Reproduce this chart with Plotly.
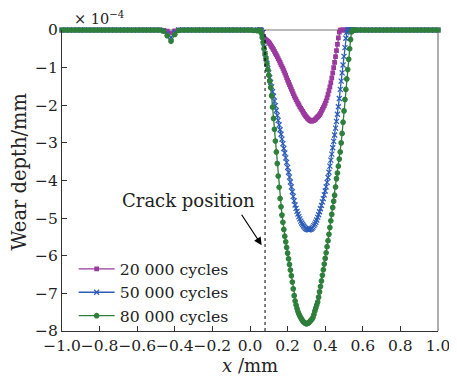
import plotly.graph_objects as go

# ---------------- data ----------------
x_left = [-1.00, -0.98, -0.96, -0.94, -0.92, -0.90, -0.88, -0.86, -0.84, -0.82,
          -0.80, -0.78, -0.76, -0.74, -0.72, -0.70, -0.68, -0.66, -0.64, -0.62,
          -0.60, -0.58, -0.56, -0.54, -0.52, -0.50, -0.48, -0.46, -0.44, -0.42,
          -0.40, -0.38, -0.36, -0.34, -0.32, -0.30, -0.28, -0.26, -0.24, -0.22,
          -0.20, -0.18, -0.16, -0.14, -0.12, -0.10, -0.08, -0.06, -0.04, -0.02,
          0.00, 0.02, 0.04]
y_left_20k = [0, 0, 0, 0, 0, 0, 0, 0, 0, 0,
              0, 0, 0, 0, 0, 0, 0, 0, 0, 0,
              0, 0, 0, 0, 0, 0, 0, -0.01, -0.03, -0.08,
              -0.02, 0, 0, 0, 0, 0, 0, 0, 0, 0,
              0, 0, 0, 0, 0, 0, 0, 0, 0, 0,
              0, 0, 0]
y_left_50k = [0, 0, 0, 0, 0, 0, 0, 0, 0, 0,
              0, 0, 0, 0, 0, 0, 0, 0, 0, 0,
              0, 0, 0, 0, 0, 0, 0, -0.02, -0.09, -0.20,
              -0.06, 0, 0, 0, 0, 0, 0, 0, 0, 0,
              0, 0, 0, 0, 0, 0, 0, 0, 0, 0,
              0, 0, -0.01]
y_left_80k = [0, 0, 0, 0, 0, 0, 0, 0, 0, 0,
              0, 0, 0, 0, 0, 0, 0, 0, 0, 0,
              0, 0, 0, 0, 0, 0, 0, -0.03, -0.15, -0.30,
              -0.12, -0.01, 0, 0, 0, 0, 0, 0, 0, 0,
              0, 0, 0, 0, 0, 0, 0, 0, 0, 0,
              0, -0.01, -0.02]

x_mid = [0.050, 0.055, 0.060, 0.065, 0.070, 0.075, 0.080, 0.085, 0.090, 0.095,
         0.100, 0.105, 0.110, 0.115, 0.120, 0.125, 0.130, 0.135, 0.140, 0.145,
         0.150, 0.155, 0.160, 0.165, 0.170, 0.175, 0.180, 0.185, 0.190, 0.195,
         0.200, 0.205, 0.210, 0.215, 0.220, 0.225, 0.230, 0.235, 0.240, 0.245,
         0.250, 0.255, 0.260, 0.265, 0.270, 0.275, 0.280, 0.285, 0.290, 0.295,
         0.300, 0.305, 0.310, 0.315, 0.320, 0.325, 0.330, 0.335, 0.340, 0.345,
         0.350, 0.355, 0.360, 0.365, 0.370, 0.375, 0.380, 0.385, 0.390, 0.395,
         0.400, 0.405, 0.410, 0.415, 0.420, 0.425, 0.430, 0.435, 0.440, 0.445,
         0.450, 0.455, 0.460, 0.465, 0.470, 0.475, 0.480, 0.485, 0.490, 0.495,
         0.500, 0.505, 0.510, 0.515, 0.520, 0.525, 0.530, 0.535, 0.540, 0.545,
         0.550]
y_mid_20k = [0, 0, -0.01, -0.08, -0.19, -0.22, -0.24, -0.26, -0.28, -0.30,
             -0.33, -0.36, -0.40, -0.44, -0.48, -0.52, -0.57, -0.62, -0.66, -0.71,
             -0.76, -0.81, -0.86, -0.92, -0.97, -1.02, -1.08, -1.14, -1.20, -1.27,
             -1.33, -1.39, -1.45, -1.51, -1.57, -1.63, -1.69, -1.75, -1.80, -1.85,
             -1.90, -1.95, -1.99, -2.04, -2.08, -2.12, -2.16, -2.20, -2.24, -2.28,
             -2.31, -2.34, -2.37, -2.39, -2.41, -2.42, -2.42, -2.41, -2.40, -2.38,
             -2.36, -2.33, -2.31, -2.28, -2.25, -2.21, -2.16, -2.11, -2.06, -2.01,
             -1.95, -1.88, -1.80, -1.71, -1.61, -1.51, -1.40, -1.27, -1.14, -1.00,
             -0.86, -0.71, -0.55, -0.38, -0.21, -0.06, 0, 0, 0, 0,
             0, 0, 0, 0, 0, 0, 0, 0, 0, 0,
             0]
y_mid_50k = [0, 0, -0.01, -0.08, -0.25, -0.47, -0.63, -0.76, -0.89, -1.02,
             -1.14, -1.27, -1.39, -1.51, -1.64, -1.76, -1.89, -2.01, -2.14, -2.27,
             -2.40, -2.52, -2.65, -2.77, -2.90, -3.02, -3.15, -3.27, -3.40, -3.52,
             -3.65, -3.78, -3.91, -4.04, -4.17, -4.30, -4.42, -4.54, -4.65, -4.74,
             -4.82, -4.89, -4.96, -5.02, -5.08, -5.13, -5.17, -5.21, -5.24, -5.27,
             -5.29, -5.30, -5.31, -5.31, -5.30, -5.29, -5.27, -5.24, -5.20, -5.16,
             -5.11, -5.05, -4.98, -4.91, -4.83, -4.75, -4.66, -4.57, -4.48, -4.38,
             -4.28, -4.17, -4.05, -3.92, -3.78, -3.62, -3.46, -3.30, -3.13, -2.96,
             -2.79, -2.61, -2.43, -2.24, -2.04, -1.82, -1.58, -1.36, -1.14, -0.93,
             -0.70, -0.47, -0.22, -0.06, 0, 0, 0, 0, 0, 0,
             0]
y_mid_80k = [0, -0.01, -0.08, -0.20, -0.34, -0.49, -0.63, -0.76, -0.90, -1.05,
             -1.20, -1.36, -1.53, -1.75, -2.05, -2.35, -2.64, -2.95, -3.24, -3.55,
             -3.88, -4.18, -4.48, -4.70, -4.92, -5.11, -5.30, -5.48, -5.63, -5.78,
             -5.93, -6.08, -6.23, -6.38, -6.53, -6.70, -6.88, -7.06, -7.20, -7.31,
             -7.40, -7.48, -7.55, -7.60, -7.65, -7.69, -7.73, -7.76, -7.78, -7.80,
             -7.81, -7.80, -7.79, -7.77, -7.74, -7.71, -7.68, -7.64, -7.56, -7.47,
             -7.39, -7.31, -7.23, -7.10, -6.96, -6.82, -6.67, -6.52, -6.37, -6.22,
             -6.07, -5.92, -5.76, -5.60, -5.43, -5.25, -5.07, -4.90, -4.72, -4.55,
             -4.39, -4.17, -3.95, -3.80, -3.62, -3.43, -3.24, -3.00, -2.75, -2.45,
             -2.15, -1.85, -1.58, -1.30, -1.05, -0.78, -0.50, -0.25, -0.05, 0,
             0]

x_right = [0.56, 0.58, 0.60, 0.62, 0.64, 0.66, 0.68, 0.70, 0.72, 0.74,
           0.76, 0.78, 0.80, 0.82, 0.84, 0.86, 0.88, 0.90, 0.92, 0.94,
           0.96, 0.98, 1.00]
y_right = [0, 0, 0, 0, 0, 0, 0, 0, 0, 0,
           0, 0, 0, 0, 0, 0, 0, 0, 0, 0,
           0, 0, 0]

series_names = ["20 000 cycles", "50 000 cycles", "80 000 cycles"]
crack_x = 0.08
x_ticks = [-1.0, -0.8, -0.6, -0.4, -0.2, 0.0, 0.2, 0.4, 0.6, 0.8, 1.0]
y_ticks = [0, -1, -2, -3, -4, -5, -6, -7, -8]

# ---------------- figure ----------------
FONT = "DejaVu Serif"
TXT = "#222"
colors = ["#9b3a9e", "#2c5cb8", "#2f7f3c"]
symbols = ["square", "x-thin", "circle"]
msizes = [3.5, 5, 4.5]

x_all = x_left + x_mid + x_right
ys = [y_left_20k + y_mid_20k + y_right,
      y_left_50k + y_mid_50k + y_right,
      y_left_80k + y_mid_80k + y_right]

fig = go.Figure()
for name, y, c, s, ms in zip(series_names, ys, colors, symbols, msizes):
    fig.add_trace(go.Scatter(
        x=x_all, y=y, name=name, mode="lines+markers",
        line=dict(color=c, width=1.3),
        marker=dict(symbol=s, size=ms, color=c,
                    line=dict(color=c, width=1.2)),
        cliponaxis=False,
    ))

# the page body adds an 8 px offset, so the figure is 8 px smaller than the window
fig.update_layout(
    width=449, height=369,
    margin=dict(l=54, r=19, t=22, b=46),
    paper_bgcolor="white", plot_bgcolor="white",
    font=dict(family=FONT, size=15, color=TXT),
    showlegend=True,
    legend=dict(x=0.031, y=0.262, xanchor="left", yanchor="top",
                bgcolor="rgba(0,0,0,0)", font=dict(size=15.7, family=FONT, color=TXT),
                tracegroupgap=0, itemwidth=36),
)
fig.update_xaxes(
    range=[-1, 1], tickvals=x_ticks, tickformat=".1f", tickangle=0,
    ticks="inside", ticklen=5, tickcolor="#333", automargin=False,
    showline=True, linecolor="#333", linewidth=1.2,
    showgrid=False, zeroline=False,
    tickfont=dict(size=15.5, family=FONT, color=TXT),
)
fig.update_yaxes(
    range=[-8, 0], tickvals=y_ticks, tickangle=0,
    ticks="inside", ticklen=5, tickcolor="#333", automargin=False,
    showline=True, linecolor="#333", linewidth=1.2,
    showgrid=False, zeroline=False,
    tickfont=dict(size=15.5, family=FONT, color=TXT),
)

# axis titles
fig.add_annotation(x=0.5, y=-0.114, xref="paper", yref="paper",
                   text="<i>x</i> /mm", showarrow=False,
                   font=dict(size=18, family=FONT, color=TXT),
                   xanchor="center", yanchor="middle")
fig.add_annotation(x=-0.113, y=0.528, xref="paper", yref="paper",
                   text="Wear depth/mm", showarrow=False, textangle=-90,
                   font=dict(size=19.5, family=FONT, color=TXT),
                   xanchor="center", yanchor="middle")

# top & right frame lines (grey)
fig.add_shape(type="line", xref="paper", yref="paper", x0=0, x1=1, y0=1, y1=1,
              line=dict(color="#777", width=1.2), layer="below")
fig.add_shape(type="line", xref="paper", yref="paper", x0=1, x1=1, y0=0, y1=1,
              line=dict(color="#777", width=1.2), layer="below")
# crack position dotted line
fig.add_shape(type="line", xref="x", yref="y", x0=crack_x, x1=crack_x, y0=-8, y1=0,
              line=dict(color="black", width=1, dash="dot"))

fig.add_annotation(x=0.062, y=-5.72, xref="x", yref="y", ax=-21, ay=-32,
                   text="", showarrow=True, arrowhead=2, arrowsize=1.3,
                   arrowwidth=1.2, arrowcolor="black")
fig.add_annotation(x=-0.327, y=-4.52, xref="x", yref="y", text="Crack position",
                   showarrow=False, font=dict(size=18, family=FONT, color=TXT))
fig.add_annotation(x=0.0255, y=1.040, xref="paper", yref="paper",
                   text="× 10<sup>−4</sup>", showarrow=False,
                   font=dict(size=14.5, family=FONT, color=TXT),
                   xanchor="left", yanchor="middle")

fig.write_html("out.html")
